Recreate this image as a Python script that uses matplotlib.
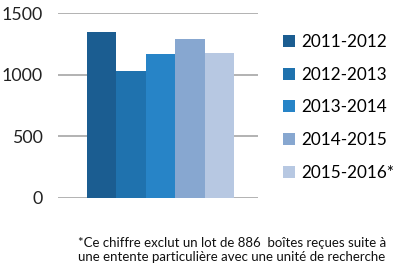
import matplotlib
matplotlib.use("Agg")
import matplotlib.pyplot as plt
from matplotlib.patches import Patch

categories = ["2011-2012", "2012-2013", "2013-2014", "2014-2015", "2015-2016*"]
values = [1348, 1030, 1170, 1287, 1176]
colors = ["#1b5d91", "#1f72ae", "#2784c7", "#87a7d0", "#b7c8e2"]
yticks = [0, 500, 1000, 1500]
footnote = ("*Ce chiffre exclut un lot de 886  boîtes reçues suite à\n"
            "une entente particulière avec une unité de recherche")

plt.rcParams['font.family'] = ['Lato', 'DejaVu Sans']

fig = plt.figure(figsize=(4.0, 2.69), dpi=100)
ax = fig.add_axes([58/400, 1 - 198/269, 200/400, 185/269])

x = [i for i in range(len(values))]
ax.bar(x, values, width=1.0, color=colors)
ax.set_xlim(-1.48, 5.3)
ax.set_ylim(0, 1500)
ax.set_yticks(yticks)
ax.set_yticklabels([str(t) for t in yticks], fontsize=12.8, color="#222222")
ax.set_xticks([])
ax.tick_params(axis='y', length=0, pad=11)
for s in ax.spines.values():
    s.set_visible(False)
ax.yaxis.grid(True, color="#a6a6a6", linewidth=1.2)
ax.set_axisbelow(True)

handles = [Patch(facecolor=c, edgecolor='none') for c in colors]
fig.legend(handles, categories, loc='upper left', bbox_to_anchor=(276/400, 1 - 27/269),
           frameon=False, fontsize=12.3, handlelength=0.7, handleheight=0.7,
           handletextpad=0.4, labelspacing=0.98, borderaxespad=0)

fig.text(78/400, 1 - 250/269, footnote, fontsize=9.5, ha='left', va='center',
         linespacing=1.25, color="#111111")

fig.savefig("out.png", dpi=100, facecolor="white")
